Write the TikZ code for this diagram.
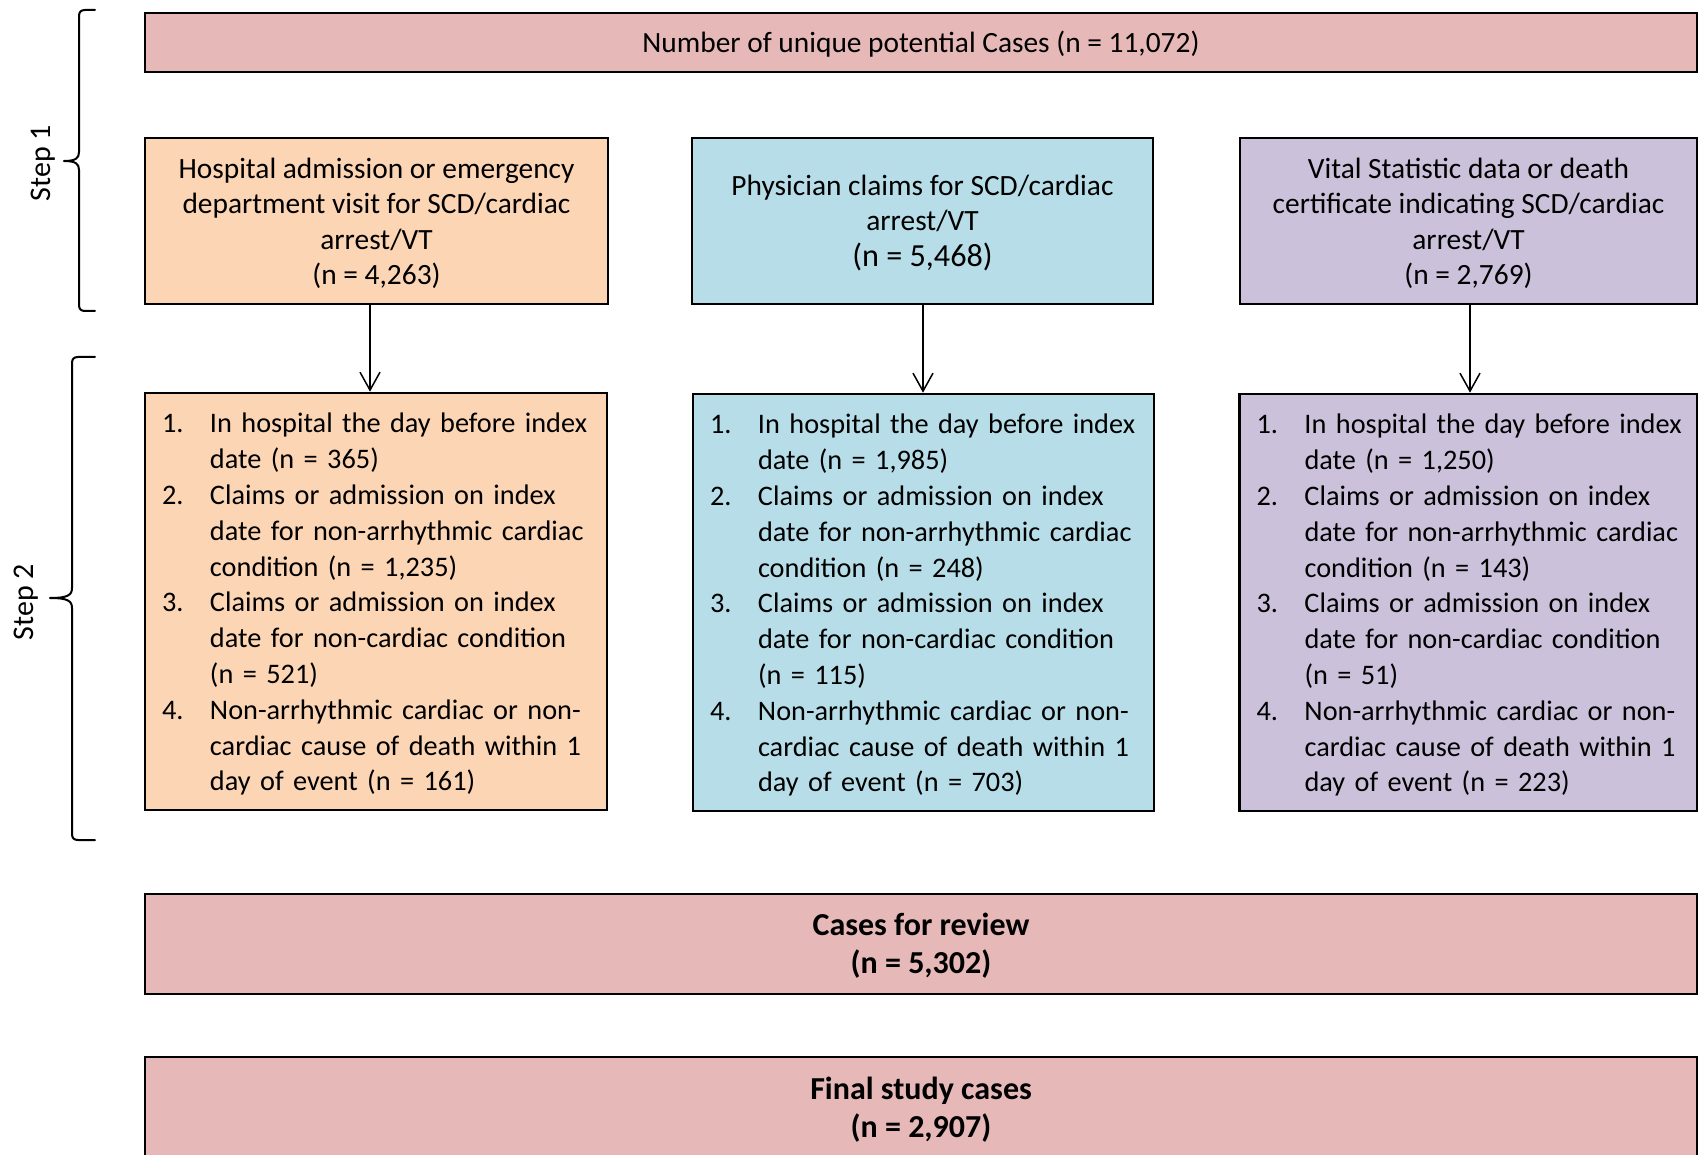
\documentclass[tikz,border=0pt]{standalone}
\usepackage{fontspec}
\setmainfont{Carlito}
\usetikzlibrary{arrows.meta}
\definecolor{pinkbox}{HTML}{E6B9B8}
\definecolor{orangebox}{HTML}{FCD5B5}
\definecolor{bluebox}{HTML}{B7DEE8}
\definecolor{purplebox}{HTML}{CCC1DA}
\newcommand{\lsitem}[2]{\makebox[24pt][l]{#1}\mbox{#2}}
\newcommand{\lscont}[1]{\hspace*{24pt}\mbox{#1}}
\newcommand{\topstrut}{\rule{0pt}{\dimexpr0.7\baselineskip+3.3pt\relax}}
\begin{document}
\begin{tikzpicture}[x=0.5pt,y=-0.5pt,
  box/.style={draw=black, line width=1.3pt, rectangle, inner sep=0pt,
    font=\fontsize{14.7}{17.7}\selectfont},
  srcbox/.style={box, align=center, minimum height=83pt},
  listbox/.style={box, inner xsep=8.5pt, align=left, minimum height=208.5pt,
    font=\fontsize{14.15}{17.9}\selectfont},
  widebox/.style={box, fill=pinkbox, minimum width=776pt, align=center},
  boldbox/.style={widebox, minimum height=50pt, font=\fontsize{16}{19}\selectfont\bfseries},
  arr/.style={-{Straight Barb[length=9pt,width=10pt]}, line width=0.75pt},
  bracepath/.style={line width=1pt, line join=round, line cap=round},
  steplabel/.style={rotate=90, inner sep=0pt, font=\fontsize{15}{18}\selectfont}
]
\useasboundingbox (0,0) rectangle (1699,1155);
\clip (0,0) rectangle (1699,1155);
\fill[white] (0,0) rectangle (1699,1155);

% top box
\node[widebox, minimum height=29.5pt] (top) at (921,42.5)
  {\topstrut Number of unique potential Cases (n = 11,072)\strut};

% step 1 sources
\node[srcbox, fill=orangebox, minimum width=231.5pt] (h1) at (376.5,221)
  {\topstrut Hospital admission or emergency\\department visit for SCD/cardiac\\arrest/VT\\(n = 4,263)\strut};
\node[srcbox, fill=bluebox, minimum width=230.5pt] (h2) at (922.5,221)
  {\topstrut Physician claims for SCD/cardiac\\arrest/VT\\{\fontsize{16.1}{19}\selectfont (n = 5,468)\strut}};
\node[srcbox, fill=purplebox, minimum width=228.5pt] (h3) at (1468.5,221)
  {\topstrut Vital Statistic data or death\\certificate indicating SCD/cardiac\\arrest/VT\\(n = 2,769)\strut};

% step 2 exclusions
\node[listbox, fill=orangebox, minimum width=231pt, text width=214pt] (l1) at (376,601.5)
  {\topstrut\lsitem{1.}{In hospital the day before index}\\
   \lscont{date (n = 365)}\\
   \lsitem{2.}{Claims or admission on index}\\
   \lscont{date for non-arrhythmic cardiac}\\
   \lscont{condition (n = 1,235)}\\
   \lsitem{3.}{Claims or admission on index}\\
   \lscont{date for non-cardiac condition}\\
   \lscont{(n = 521)}\\
   \lsitem{4.}{Non-arrhythmic cardiac or non-}\\
   \lscont{cardiac cause of death within 1}\\
   \lscont{day of event (n = 161)}\strut};
\node[listbox, fill=bluebox, minimum width=230.5pt, text width=213.5pt] (l2) at (923.5,602.5)
  {\topstrut\lsitem{1.}{In hospital the day before index}\\
   \lscont{date (n = 1,985)}\\
   \lsitem{2.}{Claims or admission on index}\\
   \lscont{date for non-arrhythmic cardiac}\\
   \lscont{condition (n = 248)}\\
   \lsitem{3.}{Claims or admission on index}\\
   \lscont{date for non-cardiac condition}\\
   \lscont{(n = 115)}\\
   \lsitem{4.}{Non-arrhythmic cardiac or non-}\\
   \lscont{cardiac cause of death within 1}\\
   \lscont{day of event (n = 703)}\strut};
\node[listbox, fill=purplebox, minimum width=228.75pt, text width=211.75pt] (l3) at (1468.25,602.5)
  {\topstrut\lsitem{1.}{In hospital the day before index}\\
   \lscont{date (n = 1,250)}\\
   \lsitem{2.}{Claims or admission on index}\\
   \lscont{date for non-arrhythmic cardiac}\\
   \lscont{condition (n = 143)}\\
   \lsitem{3.}{Claims or admission on index}\\
   \lscont{date for non-cardiac condition}\\
   \lscont{(n = 51)}\\
   \lsitem{4.}{Non-arrhythmic cardiac or non-}\\
   \lscont{cardiac cause of death within 1}\\
   \lscont{day of event (n = 223)}\strut};

% bottom boxes
\node[boldbox] (review) at (921,944) {\topstrut Cases for review\\(n = 5,302)\strut};
\node[boldbox, minimum height=50.5pt] (final) at (921,1107.5) {\topstrut Final study cases\\(n = 2,907)\strut};

% arrows
\draw[arr] ([xshift=-3.25pt]h1.south) -- ([xshift=-3.25pt]h1.south |- l1.north);
\draw[arr] ([xshift=0.25pt]h2.south) -- ([xshift=0.25pt]h2.south |- l2.north);
\draw[arr] ([xshift=0.75pt]h3.south) -- ([xshift=0.75pt]h3.south |- l3.north);

% braces
\draw[bracepath] (95,10) -- (85,10) .. controls (81,10) and (79,12) .. (79,16)
  -- (79,152) .. controls (79,158) and (76,161) .. (64,161)
  .. controls (76,161) and (79,164) .. (79,170)
  -- (79,305) .. controls (79,309) and (81,311) .. (85,311) -- (95,311);
\draw[bracepath] (95,357) -- (78,357) .. controls (74,357) and (72,359) .. (72,363)
  -- (72,588) .. controls (72,595) and (68,598) .. (50,598)
  .. controls (68,598) and (72,601) .. (72,608)
  -- (72,834) .. controls (72,838) and (74,840) .. (78,840) -- (95,840);

% step labels
\node[steplabel] (s1) at (43,163) {Step 1};
\node[steplabel] (s2) at (26,602) {Step 2};
\end{tikzpicture}
\end{document}
